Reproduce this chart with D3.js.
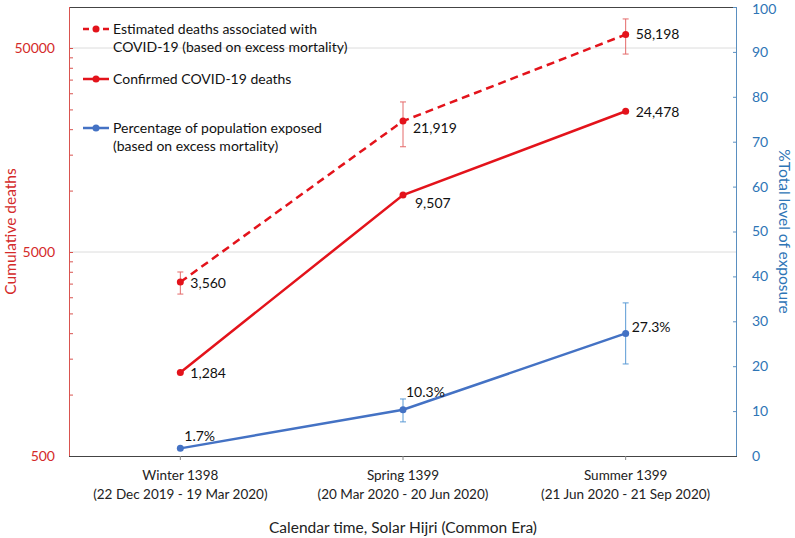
<!DOCTYPE html>
<html><head><meta charset="utf-8">
<script src="https://cdn.jsdelivr.net/npm/d3@7"></script>
<style>body{margin:0;background:#fff}svg{display:block}text{font-family:Lato,"Open Sans",sans-serif}</style>
</head><body><svg id="c" width="795" height="538"></svg>
<script>
const categories = ["Winter 1398", "Spring 1399", "Summer 1399"];
const categoryDates = ["(22 Dec 2019 - 19 Mar 2020)", "(20 Mar 2020 - 20 Jun 2020)", "(21 Jun 2020 - 21 Sep 2020)"];
const estimatedDeaths = [3560, 21919, 58198];
const estimatedLow = [3110, 16400, 46700];
const estimatedHigh = [3990, 27200, 69400];
const confirmedDeaths = [1284, 9507, 24478];
const exposurePct = [1.7, 10.3, 27.3];
const exposureLow = [1.7, 7.6, 20.5];
const exposureHigh = [1.7, 12.7, 34.1];
const leftMajorTicks = [500, 5000, 50000];
const rightTicks = [0,10,20,30,40,50,60,70,80,90,100];

const svg = d3.select("#c");
const L = 69, R = 737, T = 7, B = 456;
const RED = "#e3131b", REDTXT = "#d42a2a", BLUE = "#4472c4", BLUETXT = "#2e75b6";

const x = d3.scaleBand().domain(categories).range([L, R]);
const cx = c => x(c) + x.bandwidth()/2;
const yL = d3.scaleLog().domain([500, 500*Math.pow(10, (B-T)/204)]).range([B, T]);
const yR = d3.scaleLinear().domain([0, 100]).range([B, T]);

// gridlines
svg.append("g").selectAll("line").data(leftMajorTicks.slice(1)).join("line")
  .attr("x1", L).attr("x2", R).attr("y1", d=>yL(d)).attr("y2", d=>yL(d))
  .attr("stroke", "#dcdcdc").attr("stroke-width", 1);

// top border
svg.append("line").attr("x1", L).attr("x2", R).attr("y1", T+0.5).attr("y2", T+0.5).attr("stroke", "#444").attr("stroke-width", 1);

// left axis
const minorTicks = [];
[500, 5000, 50000].forEach(b => { for (let k=2;k<=9;k++){ const v=b*k; if (v<=yL.domain()[1]) minorTicks.push(v);} });
const gl = svg.append("g").attr("transform", `translate(${L},0)`);
gl.call(d3.axisRight(yL).tickValues(minorTicks).tickSize(4).tickFormat(""));
gl.append("g").call(d3.axisRight(yL).tickValues(leftMajorTicks).tickSize(4).tickFormat(""));
gl.selectAll("path,line").attr("stroke", "#d9534f");
gl.selectAll("path").attr("d", `M0.5,${T}V${B}`);
svg.append("g").selectAll("text").data(leftMajorTicks).join("text")
  .attr("x", 55).attr("y", d=>yL(d)).attr("dy", "0.35em").attr("text-anchor", "end")
  .attr("fill", REDTXT).attr("font-size", 14).text(d=>d);

// right axis
const gr = svg.append("g").attr("transform", `translate(${R},0)`);
gr.call(d3.axisLeft(yR).tickValues(rightTicks).tickSize(4).tickFormat(""));
gr.selectAll("path,line").attr("stroke", "#5a8fc0");
gr.selectAll("path").attr("d", `M-0.5,${T}V${B}`);
svg.append("g").selectAll("text").data(rightTicks).join("text")
  .attr("x", 752).attr("y", d=>Math.max(yR(d), 9)).attr("dy", "0.35em").attr("text-anchor", "start")
  .attr("fill", BLUETXT).attr("font-size", 14).text(d=>d);

// bottom axis
const gb = svg.append("g").attr("transform", `translate(0,${B})`);
gb.call(d3.axisBottom(x).tickSize(0).tickFormat(""));
gb.selectAll("path").attr("stroke", "#444").attr("d", `M${L},0.5H${R}`);
gb.append("g").selectAll("line").data(categories).join("line")
  .attr("x1", d=>cx(d)).attr("x2", d=>cx(d)).attr("y1", 0).attr("y2", 4).attr("stroke", "#888");
const catText = svg.append("g").selectAll("text").data(categories).join("text")
  .attr("x", d=>cx(d)).attr("y", 480).attr("text-anchor", "middle").attr("fill", "#222").attr("font-size", 13.5);
catText.append("tspan").text(d=>d);
catText.append("tspan").attr("x", d=>cx(d)).attr("dy", 19).text((d,i)=>categoryDates[i]);

// axis titles
svg.append("text").attr("x", 403).attr("y", 533).attr("text-anchor", "middle").attr("fill", "#222").attr("font-size", 15.5)
  .text("Calendar time, Solar Hijri (Common Era)");
svg.append("text").attr("transform", `translate(16,${(T+B)/2}) rotate(-90)`).attr("text-anchor", "middle")
  .attr("fill", REDTXT).attr("font-size", 15.5).text("Cumulative deaths");
svg.append("text").attr("transform", `translate(779,${(T+B)/2}) rotate(90)`).attr("text-anchor", "middle")
  .attr("fill", BLUETXT).attr("font-size", 15.5).text("%Total level of exposure");

// error bars
function errBars(lo, hi, scale, color) {
  const g = svg.append("g").attr("stroke", color).attr("stroke-width", 1);
  categories.forEach((c,i) => {
    if (lo[i] === hi[i]) return;
    const xx = cx(c);
    g.append("line").attr("x1", xx).attr("x2", xx).attr("y1", scale(lo[i])).attr("y2", scale(hi[i]));
    g.append("line").attr("x1", xx-3).attr("x2", xx+3).attr("y1", scale(lo[i])).attr("y2", scale(lo[i]));
    g.append("line").attr("x1", xx-3).attr("x2", xx+3).attr("y1", scale(hi[i])).attr("y2", scale(hi[i]));
  });
}
errBars(estimatedLow, estimatedHigh, yL, "#e46a6a");
errBars(exposureLow, exposureHigh, yR, "#5b9bd5");

function series(vals, scale, color, dash) {
  const line = d3.line().x((d,i)=>cx(categories[i])).y(d=>scale(d));
  svg.append("path").datum(vals).attr("d", line).attr("fill", "none").attr("stroke", color)
    .attr("stroke-width", 2.5).attr("stroke-dasharray", dash || null);
  svg.append("g").selectAll("circle").data(vals).join("circle")
    .attr("cx", (d,i)=>cx(categories[i])).attr("cy", d=>scale(d)).attr("r", 3.5).attr("fill", color);
}
series(estimatedDeaths, yL, RED, "8,5");
series(confirmedDeaths, yL, RED);
series(exposurePct, yR, BLUE);

// data labels
const fmt = d3.format(",");
function labels(vals, scale, offsets, f) {
  svg.append("g").selectAll("text").data(vals).join("text")
    .attr("x", (d,i)=>cx(categories[i]) + offsets[i][0]).attr("y", (d,i)=>scale(d) + offsets[i][1])
    .attr("dy", "0.35em").attr("fill", "#111").attr("font-size", 14).text(f);
}
labels(estimatedDeaths, yL, [[10,1],[10,7],[10,0]], d=>fmt(d));
labels(confirmedDeaths, yL, [[10,1],[12,8],[10,1]], d=>fmt(d));
labels(exposurePct, yR, [[4,-12],[3,-18],[6,-6]], d=>d.toFixed(1)+"%");

// legend
const legend = [
  {lines:["Estimated deaths associated with","COVID-19 (based on excess mortality)"], color:RED, dash:"6,4", y:29},
  {lines:["Confirmed COVID-19 deaths"], color:RED, dash:null, y:79},
  {lines:["Percentage of population exposed","(based on excess mortality)"], color:BLUE, dash:null, y:128}
];
const lg = svg.append("g");
legend.forEach(it => {
  lg.append("line").attr("x1", 83).attr("x2", 109).attr("y1", it.y).attr("y2", it.y)
    .attr("stroke", it.color).attr("stroke-width", 2.5).attr("stroke-dasharray", it.dash);
  lg.append("circle").attr("cx", 96).attr("cy", it.y).attr("r", 3.5).attr("fill", it.color);
  it.lines.forEach((t,j) => lg.append("text").attr("x", 113).attr("y", it.y + j*18.5).attr("dy","0.35em")
    .attr("fill", "#111").attr("font-size", 14).text(t));
});
</script></body></html>
